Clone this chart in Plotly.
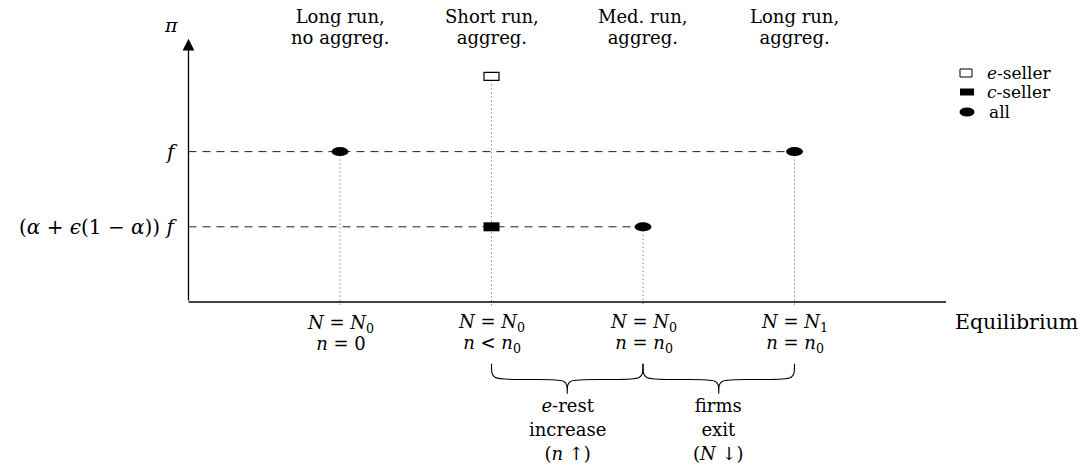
import plotly.graph_objects as go

# ---------------- data ----------------
stage_x = [1, 2, 3, 4]
stage_title_1 = ["Long run,", "Short run,", "Med. run,", "Long run,"]
stage_title_2 = ["no aggreg.", "aggreg.", "aggreg.", "aggreg."]
stage_N = ["<i>N</i> = <i>N</i><sub>0</sub>", "<i>N</i> = <i>N</i><sub>0</sub>",
           "<i>N</i> = <i>N</i><sub>0</sub>", "<i>N</i> = <i>N</i><sub>1</sub>"]
stage_n = ["<i>n</i> = 0", "<i>n</i> &lt; <i>n</i><sub>0</sub>",
           "<i>n</i> = <i>n</i><sub>0</sub>", "<i>n</i> = <i>n</i><sub>0</sub>"]

profit_levels = [2, 1]
profit_labels = ["<i>f</i>", "(<i>α</i> + <i>ϵ</i>(1 − <i>α</i>)) <i>f</i>"]

e_seller_x = [2]
e_seller_y = [3]
c_seller_x = [2]
c_seller_y = [1]
all_x = [1, 3, 4]
all_y = [2, 1, 2]

transitions = [(2, 3), (3, 4)]
transition_labels = [["<i>e</i>-rest", "increase", "(<i>n</i> ↑)"],
                     ["firms", "exit", "(<i>N</i> ↓)"]]

legend_names = ["<i>e</i>-seller", "<i>c</i>-seller", "all"]

x_axis_max = 5
y_axis_max = 3.5

# ---------------- style ----------------
FONT = "'DejaVu Serif', 'Liberation Serif', serif"
W, H = 1090, 464


def block(lines, size):
    return "<br>".join(f'<span style="font-size:{size}px">{s}</span>' for s in lines)


def fnt(size):
    return dict(family=FONT, size=size, color="black")


fig = go.Figure()

pts_x = e_seller_x + c_seller_x + all_x
pts_y = e_seller_y + c_seller_y + all_y

# dashed horizontal guides from the pi-axis to the last point on that level
for lvl in profit_levels:
    xe = max(x for x, y in zip(pts_x, pts_y) if y == lvl)
    fig.add_trace(go.Scatter(x=[0, xe], y=[lvl, lvl], mode="lines",
                             line=dict(color="#222", width=1, dash="8px,6px"),
                             hoverinfo="skip"))

# dotted vertical guides from the highest point at each stage down to the axis
for sx in stage_x:
    ytop = max(y for x, y in zip(pts_x, pts_y) if x == sx)
    fig.add_trace(go.Scatter(x=[sx, sx], y=[ytop, -0.045], mode="lines",
                             line=dict(color="#555", width=1, dash="1px,3px"),
                             hoverinfo="skip"))

# horizontal axis
fig.add_trace(go.Scatter(x=[0, x_axis_max], y=[0, 0], mode="lines",
                         line=dict(color="black", width=1.3), hoverinfo="skip"))

shapes = []
# markers
for x, y in zip(all_x, all_y):
    shapes.append(dict(type="circle", xref="x", yref="y", xsizemode="pixel", ysizemode="pixel",
                       xanchor=x, yanchor=y, x0=-8.5, x1=8.5, y0=-4.5, y1=4.5,
                       fillcolor="black", line=dict(width=0)))
for x, y in zip(e_seller_x, e_seller_y):
    shapes.append(dict(type="rect", xref="x", yref="y", xsizemode="pixel", ysizemode="pixel",
                       xanchor=x, yanchor=y, x0=-7.5, x1=7.5, y0=-4, y1=4,
                       fillcolor="white", line=dict(color="black", width=1.2)))
for x, y in zip(c_seller_x, c_seller_y):
    shapes.append(dict(type="rect", xref="x", yref="y", xsizemode="pixel", ysizemode="pixel",
                       xanchor=x, yanchor=y, x0=-8, x1=8, y0=-4.5, y1=4.5,
                       fillcolor="black", line=dict(width=0)))


# braces under the axis
def brace(x0, x1, ye, ym, yt, d):
    xm = (x0 + x1) / 2
    return (f"M {x0},{ye} C {x0},{ym} {x0},{ym} {x0 + d},{ym} L {xm - d},{ym} "
            f"C {xm},{ym} {xm},{ym} {xm},{yt} C {xm},{ym} {xm},{ym} {xm + d},{ym} "
            f"L {x1 - d},{ym} C {x1},{ym} {x1},{ym} {x1},{ye}")


for a, b in transitions:
    shapes.append(dict(type="path", xref="x", yref="y",
                       path=brace(a, b, -0.82, -1.03, -1.22, 0.2),
                       line=dict(color="black", width=1.1)))


# legend (manual, in paper coordinates)
def px(x):
    return x / W


def py(y):
    return 1 - y / H


leg_rows = [73, 92, 112]
shapes.append(dict(type="rect", xref="paper", yref="paper", xsizemode="pixel", ysizemode="pixel",
                   xanchor=px(966), yanchor=py(leg_rows[0]), x0=-6, x1=6, y0=-4, y1=4,
                   fillcolor="white", line=dict(color="black", width=1)))
shapes.append(dict(type="rect", xref="paper", yref="paper", xsizemode="pixel", ysizemode="pixel",
                   xanchor=px(967), yanchor=py(leg_rows[1]), x0=-7, x1=7, y0=-3.5, y1=3.5,
                   fillcolor="black", line=dict(width=0)))
shapes.append(dict(type="circle", xref="paper", yref="paper", xsizemode="pixel", ysizemode="pixel",
                   xanchor=px(967), yanchor=py(leg_rows[2]), x0=-7.5, x1=7.5, y0=-4.5, y1=4.5,
                   fillcolor="black", line=dict(width=0)))

ann = []

# pi axis arrow
ann.append(dict(x=0, y=y_axis_max, ax=0, ay=0, xref="x", yref="y", axref="x", ayref="y",
                text="", showarrow=True, arrowhead=2, arrowsize=1.8, arrowwidth=1.3,
                arrowcolor="black"))
ann.append(dict(x=0, y=y_axis_max, xref="x", yref="y", text="<i>π</i>", showarrow=False,
                xshift=-18, yshift=14, font=fnt(19)))
# equilibrium label
ann.append(dict(x=x_axis_max, y=0, xref="x", yref="y", text="Equilibrium", showarrow=False,
                xanchor="left", xshift=7, yshift=-20, font=fnt(20.5)))
# profit level labels
for lvl, lab in zip(profit_levels, profit_labels):
    ann.append(dict(x=0, y=lvl, xref="x", yref="y", text=lab, showarrow=False,
                    xanchor="right", xshift=-9, font=fnt(20)))
# stage titles and conditions (tight leading like the original)
for sx, t1, t2, nN, nn in zip(stage_x, stage_title_1, stage_title_2, stage_N, stage_n):
    ann.append(dict(x=sx, y=y_axis_max, xref="x", yref="y", text=block([t1, t2], 18),
                    showarrow=False, yshift=12, font=fnt(16.5)))
    ann.append(dict(x=sx, y=0, xref="x", yref="y", text=block([nN, nn], 18),
                    showarrow=False, yshift=-31, font=fnt(16.5)))
# brace labels
for (a, b), lines in zip(transitions, transition_labels):
    ann.append(dict(x=(a + b) / 2, y=0, xref="x", yref="y", text=block(lines, 18),
                    showarrow=False, yshift=-127, font=fnt(18.5)))
# legend labels
for name, row, lx in zip(legend_names, leg_rows, [985, 985, 987]):
    ann.append(dict(x=px(lx), y=py(row), xref="paper", yref="paper",
                    text=name, showarrow=False, xanchor="left", yanchor="middle",
                    font=fnt(17)))

fig.update_layout(
    width=W, height=H, margin=dict(l=0, r=0, t=0, b=0),
    paper_bgcolor="white", plot_bgcolor="white", showlegend=False,
    xaxis=dict(visible=False, range=[-1.2442, 5.9505], fixedrange=True),
    yaxis=dict(visible=False, range=[-2.154, 4.016], fixedrange=True),
    shapes=shapes, annotations=ann,
    font=fnt(18),
)

fig.write_html("out.html", config={"displayModeBar": False},
               post_script="document.body.style.margin='0';")
